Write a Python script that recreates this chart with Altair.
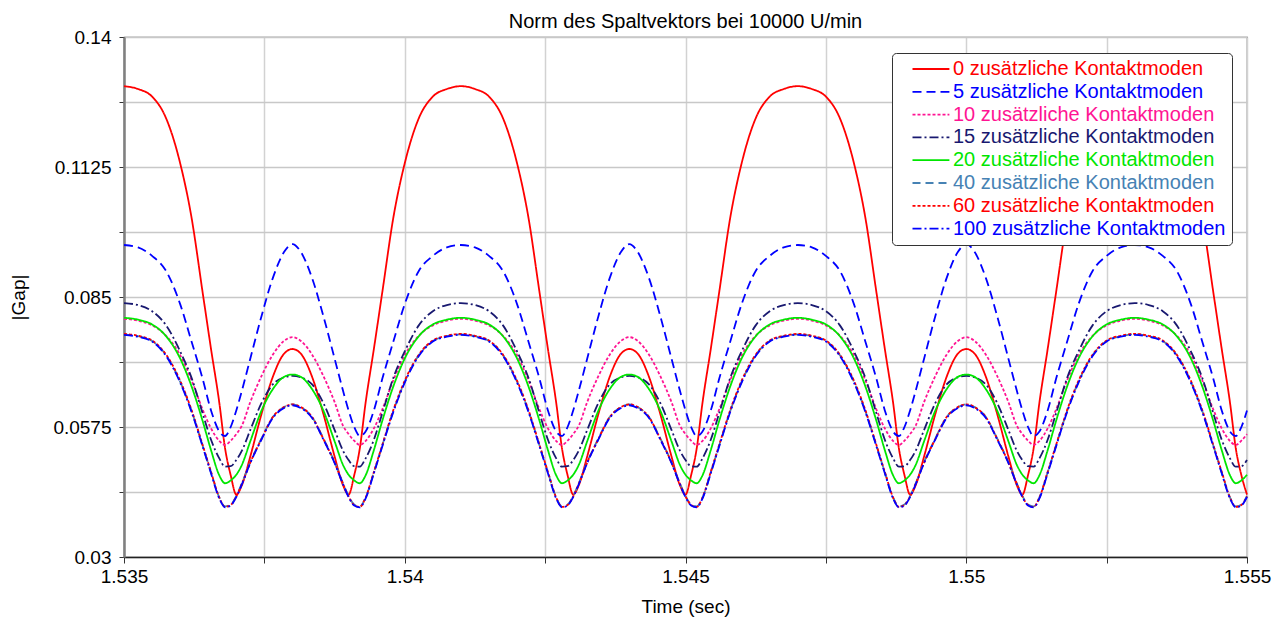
import altair as alt
import pandas as pd

# ---- data (one half period, mirrored; period = 0.006 s) ----
PERIOD_S = 0.006
T_START = 1.535
T_END = 1.555
PHASE_MS = [0, 0.25, 0.5, 0.75, 1.0, 1.2, 1.4, 1.55, 1.7, 1.8, 1.9, 2.0, 2.1, 2.25, 2.45, 2.65, 2.85, 3.0]

SERIES = ["0 zusätzliche Kontaktmoden", "5 zusätzliche Kontaktmoden", "10 zusätzliche Kontaktmoden",
          "15 zusätzliche Kontaktmoden", "20 zusätzliche Kontaktmoden", "40 zusätzliche Kontaktmoden",
          "60 zusätzliche Kontaktmoden", "100 zusätzliche Kontaktmoden"]

V0 = [0.1296, 0.1290, 0.1274, 0.1228, 0.1133, 0.1020, 0.0860, 0.0740, 0.0624, 0.0530, 0.0473, 0.0432,
      0.0452, 0.0513, 0.0603, 0.0681, 0.0730, 0.0740]
V5 = [0.0960, 0.0955, 0.0937, 0.0905, 0.0835, 0.0757, 0.0677, 0.0610, 0.0565, 0.0556, 0.0575, 0.0610,
      0.0652, 0.0720, 0.0810, 0.0890, 0.0945, 0.0962]
V10 = [0.0804, 0.0800, 0.0790, 0.0768, 0.0727, 0.0675, 0.0612, 0.0572, 0.0545, 0.0537, 0.0546, 0.0560,
       0.0578, 0.0628, 0.0683, 0.0728, 0.0757, 0.0765]
V15 = [0.0837, 0.0833, 0.0820, 0.0790, 0.0735, 0.0680, 0.0604, 0.0548, 0.0508, 0.0491, 0.0492, 0.0505,
       0.0525, 0.0569, 0.0626, 0.0665, 0.0680, 0.0683]
V20 = [0.0806, 0.0802, 0.0792, 0.0767, 0.0720, 0.0662, 0.0588, 0.0526, 0.0472, 0.0456, 0.0462, 0.0474,
       0.0495, 0.0545, 0.0610, 0.0655, 0.0681, 0.0686]
V40 = [0.0771, 0.0767, 0.0757, 0.0727, 0.0671, 0.0610, 0.0536, 0.0479, 0.0425, 0.0407, 0.0411, 0.0429,
       0.0456, 0.0501, 0.0551, 0.0596, 0.0617, 0.0623]
V60 = [0.0772, 0.0768, 0.0758, 0.0728, 0.0673, 0.0612, 0.0537, 0.0480, 0.0425, 0.0406, 0.0410, 0.0428,
       0.0455, 0.0500, 0.0550, 0.0596, 0.0617, 0.0623]
V100 = [0.0770, 0.0766, 0.0756, 0.0725, 0.0669, 0.0608, 0.0534, 0.0477, 0.0423, 0.0405, 0.0409, 0.0427,
        0.0454, 0.0499, 0.0549, 0.0594, 0.0615, 0.0621]
VALUES = [V0, V5, V10, V15, V20, V40, V60, V100]

COLORS = ["#ff0000", "#0000ff", "#ff1493", "#191970", "#00e600", "#4682b4", "#ff0000", "#0000ff"]
DASHES = [[1, 0], [9, 5], [3, 2], [9, 3, 2, 3], [1, 0], [8, 5], [3, 2], [9, 3, 2, 3]]

Y_TICKS = [0.03, 0.04375, 0.0575, 0.07125, 0.085, 0.09875, 0.1125, 0.12625, 0.14]
Y_LABELS = ["0.03", "", "0.0575", "", "0.085", "", "0.1125", "", "0.14"]
X_TICKS = [1.535, 1.5375, 1.54, 1.5425, 1.545, 1.5475, 1.55, 1.5525, 1.555]
X_LABELS = ["1.535", "", "1.54", "", "1.545", "", "1.55", "", "1.555"]

# ---- build table ----
rows = []
for name, half in zip(SERIES, VALUES):
    phases = PHASE_MS + [6.0 - p for p in reversed(PHASE_MS[:-1])]
    vals = half + list(reversed(half[:-1]))
    for k in range(4):
        for p, v in zip(phases, vals):
            t = T_START + k * PERIOD_S + p / 1000.0
            if t <= T_END + 1e-9:
                rows.append({"series": name, "t": round(t, 7), "v": v})
df = pd.DataFrame(rows)

FONT = "Liberation Sans"

y_expr = "[" + ",".join("'%s'" % s for s in Y_LABELS) + "][round((datum.value-0.03)/0.01375)]"
x_expr = "[" + ",".join("'%s'" % s for s in X_LABELS) + "][round((datum.value-1.535)/0.0025)]"
label_color_expr = "[" + ",".join("'%s'" % c for c in COLORS) + "][indexof([" + \
    ",".join("'%s'" % s for s in SERIES) + "], datum.value)]"

base = alt.Chart(df).encode(
    x=alt.X("t:Q", scale=alt.Scale(domain=[T_START, T_END], nice=False, zero=False),
            axis=alt.Axis(values=X_TICKS, labelExpr=x_expr, title="Time (sec)", labelFontSize=19,
                          titleFontSize=19, titleFontWeight="normal", labelFont=FONT, titleFont=FONT,
                          labelColor="black", titleColor="black", tickSize=6, tickColor="#333",
                          domainColor="#222", domainWidth=1.5, labelPadding=4, titlePadding=11,
                          gridColor="#d2d2d2", gridWidth=1.5, labelFlush=False)),
    y=alt.Y("v:Q", scale=alt.Scale(domain=[0.03, 0.14], nice=False, zero=False),
            axis=alt.Axis(values=Y_TICKS, labelExpr=y_expr, title="|Gap|", labelFontSize=19,
                          titleFontSize=19, titleFontWeight="normal", labelFont=FONT, titleFont=FONT,
                          labelColor="black", titleColor="black", tickSize=5, tickColor="#333",
                          domainColor="#808080", domainWidth=2.5, labelPadding=8, titlePadding=24,
                          gridColor="#c8c8c8", gridWidth=1.5)),
    color=alt.Color("series:N", scale=alt.Scale(domain=SERIES, range=COLORS),
                    legend=alt.Legend(
                        title=None, orient="none", legendX=768, legendY=16, padding=6,
                        fillColor="white", strokeColor="#333", cornerRadius=4,
                        labelFont=FONT, labelFontSize=20, labelLimit=400, labelOffset=35,
                        labelColor=alt.ExprRef(label_color_expr),
                        symbolType="M1,0H9.2", symbolSize=81, symbolStrokeWidth=1.8,
                        rowPadding=2.8)),
    strokeDash=alt.StrokeDash("series:N", scale=alt.Scale(domain=SERIES, range=DASHES), legend=None),
)

layers = [
    base.transform_filter(alt.datum.series == name).mark_line(strokeWidth=1.8, interpolate="monotone")
    for name in SERIES
]

chart = alt.layer(*layers).properties(
    width=1123, height=520,
    title=alt.TitleParams("Norm des Spaltvektors bei 10000 U/min", font=FONT, fontSize=20,
                          fontWeight="normal", color="black", offset=-4),
    autosize=alt.AutoSizeParams(type="none"),
    padding={"left": 116, "top": 29, "right": 30, "bottom": 60},
).configure_view(stroke="#555", strokeWidth=1.2)

chart.save("out.html", embed_options={"renderer": "svg", "actions": False})
